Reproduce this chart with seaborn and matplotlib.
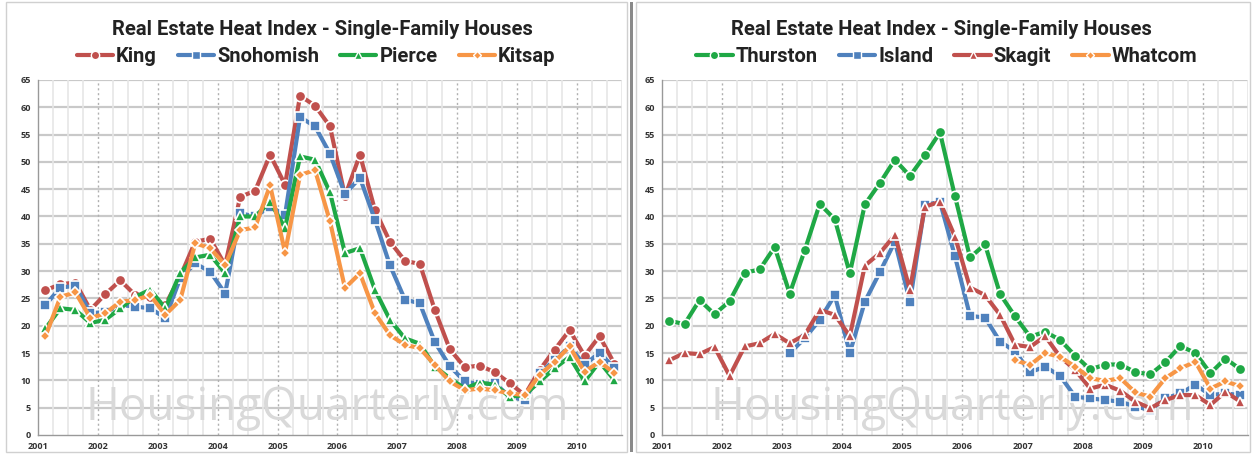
import numpy as np
import pandas as pd
import matplotlib
matplotlib.use("Agg")
import matplotlib.pyplot as plt
import seaborn as sns
from matplotlib.lines import Line2D
from matplotlib.patches import Rectangle

# quarterly data, 2001 Q1 .. 2010 Q3
quarters = [f"{y}Q{q}" for y in range(2001, 2011) for q in range(1, 5)][:39]

king = [26.5, 27.6, 27.9, 22.9, 25.8, 28.3, 25.6, 25.2, 23.8, 29.0, 35.4, 35.9, 31.1,
        43.6, 44.7, 51.3, 45.8, 62.1, 60.3, 56.5, 43.7, 51.3, 41.2, 35.4, 31.9, 31.3,
        22.9, 15.7, 12.4, 12.7, 11.5, 9.5, 7.3, 11.9, 15.6, 19.2, 14.5, 18.1, 13.0]
snohomish = [23.8, 27.0, 27.3, 22.3, 22.5, 23.8, 23.5, 23.2, 21.4, 28.7, 31.4, 29.9, 25.9,
             40.6, 40.0, 41.8, 40.3, 58.2, 56.5, 51.5, 44.1, 47.1, 39.4, 31.1, 24.8, 24.1,
             17.0, 12.6, 9.8, 9.3, 9.5, 7.0, 6.4, 11.3, 13.7, 16.2, 12.8, 15.1, 12.2]
pierce = [19.5, 23.2, 22.9, 20.5, 21.1, 23.2, 25.3, 26.6, 23.2, 29.7, 32.5, 33.0, 29.6,
          40.0, 40.0, 42.7, 37.9, 51.0, 50.4, 44.4, 33.3, 34.2, 26.6, 21.1, 17.7, 16.7,
          12.5, 10.4, 8.5, 9.6, 9.2, 7.0, 7.3, 9.8, 12.2, 14.3, 9.8, 13.4, 10.0]
kitsap = [18.1, 25.3, 26.1, 21.4, 22.3, 24.4, 24.7, 25.6, 22.0, 24.7, 35.1, 34.2, 31.1,
          37.5, 38.0, 45.7, 33.4, 47.6, 48.5, 39.1, 26.9, 29.6, 22.3, 18.3, 16.5, 15.9,
          12.8, 9.8, 8.2, 8.5, 8.2, 7.6, 7.3, 11.0, 13.4, 16.2, 11.6, 13.4, 11.3]

thurston = [20.9, 20.3, 24.7, 22.1, 24.5, 29.7, 30.3, 34.4, 25.9, 33.8, 42.3, 39.5, 29.6,
            42.2, 46.1, 50.4, 47.4, 51.2, 55.4, 43.7, 32.5, 34.9, 25.8, 21.7, 18.0, 18.9,
            17.4, 14.5, 12.0, 12.9, 12.9, 11.5, 11.1, 13.3, 16.3, 15.0, 11.3, 14.0, 12.0]
island = [None] * 8 + [15.0, 17.7, 21.1, 25.6, 15.0, 24.4, 29.8, 35.4, 24.4, 42.1, 42.7,
                       32.7, 21.8, 21.5, 17.1, 15.3, 11.5, 12.5, 10.8, 7.0, 6.7, 6.4, 6.1,
                       5.2, 4.6, 6.7, 7.6, 9.2, 7.3, 7.6, 7.3]
skagit = [13.7, 15.0, 14.8, 16.1, 10.8, 16.2, 16.8, 18.5, 16.8, 18.3, 22.9, 22.0, 18.1,
          31.0, 33.3, 36.6, 26.6, 41.8, 42.7, 36.3, 27.0, 25.6, 22.0, 16.5, 16.1, 18.1,
          14.3, 11.9, 8.5, 9.2, 8.1, 6.1, 4.9, 6.4, 7.3, 7.3, 5.5, 7.9, 6.1]
whatcom = [None] * 23 + [13.7, 12.8, 15.0, 14.3, 12.5, 10.4, 9.9, 10.4, 7.8, 7.0, 10.4,
                         12.2, 13.4, 8.5, 9.8, 8.9]

left_names = ["King", "Snohomish", "Pierce", "Kitsap"]
right_names = ["Thurston", "Island", "Skagit", "Whatcom"]
left_values = [king, snohomish, pierce, kitsap]
right_values = [thurston, island, skagit, whatcom]

RED, BLUE, GREEN, ORANGE = "#C0504D", "#4F81BD", "#1FA845", "#F79646"
left_colors = [RED, BLUE, GREEN, ORANGE]
right_colors = [GREEN, BLUE, RED, ORANGE]
markers = ["o", "s", "^", "D"]
msizes = [7.5, 7.5, 6.5, 5.5]


def to_year(q):
    return int(q[:4]) + (int(q[-1]) - 1) * 0.25 + 0.125


def long_df(names, values):
    rows = []
    for n, vals in zip(names, values):
        for q, v in zip(quarters, vals):
            rows.append({"t": to_year(q), "county": n, "index": v})
    return pd.DataFrame(rows)


sns.set_theme(style="white")
plt.rcParams["font.family"] = ["Open Sans", "DejaVu Sans"]
head_font = ["Roboto", "Open Sans", "DejaVu Sans"]

fig = plt.figure(figsize=(12.54, 4.54), dpi=100)

# panel frames and separator
fig.patches.append(Rectangle((0.005, 0.005), 0.495, 0.99, transform=fig.transFigure,
                             fill=False, edgecolor="#d0d0d0", lw=1))
fig.patches.append(Rectangle((0.502, 0.005), 0.0025, 0.99, transform=fig.transFigure,
                             facecolor="#8a8a8a", edgecolor="none"))
fig.patches.append(Rectangle((0.507, 0.005), 0.49, 0.99, transform=fig.transFigure,
                             fill=False, edgecolor="#d0d0d0", lw=1))

panels = [
    ([0.0303, 0.0419, 0.4657, 0.782], left_names, left_values, left_colors, 0.257, 0.252),
    ([0.5279, 0.0419, 0.4673, 0.782], right_names, right_values, right_colors, 0.751, 0.755),
]

for rect, names, values, colors, tx, lx in panels:
    ax = fig.add_axes(rect)
    df = long_df(names, values)
    sns.lineplot(data=df, x="t", y="index", hue="county", style="county",
                 palette=colors, markers=markers, dashes=False, ax=ax,
                 linewidth=3.0, markeredgecolor="white", markeredgewidth=1.2,
                 legend=False)
    for line, ms in zip(ax.lines, msizes):
        line.set_markersize(ms)

    ax.set_xlim(2001, 2010.75)
    ax.set_ylim(0, 65)
    ax.set_xticks(range(2001, 2011))
    ax.set_xticks(np.arange(2001, 2010.8, 0.25), minor=True)
    ax.set_yticks(range(0, 66, 5))
    ax.set_xlabel("")
    ax.set_ylabel("")
    ax.grid(False)
    for y in range(5, 66, 5):
        ax.axhline(y, color="#c9c9c9", lw=1.6, zorder=0)
    for x in np.arange(2001.25, 2010.8, 0.25):
        if abs(x - round(x)) < 1e-6:
            ax.axvline(x, color="#b0b0b0", lw=1, ls=(0, (1.5, 2)), zorder=0)
        else:
            ax.axvline(x, color="#e6e6e6", lw=1.2, zorder=0)
    ax.tick_params(axis="both", labelsize=6.5, colors="#333333", length=3,
                   width=0.8, pad=2)
    ax.tick_params(axis="x", which="minor", length=2, color="#999999")
    for lbl in ax.get_xticklabels() + ax.get_yticklabels():
        lbl.set_fontweight("bold")
    for s in ["top", "right"]:
        ax.spines[s].set_visible(False)
    for s in ["left", "bottom"]:
        ax.spines[s].set_color("#999999")
        ax.spines[s].set_linewidth(1)

    ax.text(0.495, 0.075, "HousingQuarterly.com", transform=ax.transAxes,
            ha="center", va="center", fontsize=33, color="#d9d9d9", zorder=0)

    handles = [Line2D([], [], color=c, marker=m, markersize=ms * 0.8, lw=3,
                      markeredgecolor="white", markeredgewidth=1)
               for c, m, ms in zip(colors, markers, msizes)]
    fig.text(tx, 0.935, "Real Estate Heat Index - Single-Family Houses", ha="center",
             va="center", fontsize=14.5, fontweight="bold", color="#222222",
             family=head_font)
    leg = fig.legend(handles, names, loc="center", bbox_to_anchor=(lx, 0.875),
                     ncol=4, frameon=False, handlelength=1.8,
                     handletextpad=0.15, columnspacing=1.05, borderaxespad=0,
                     prop={"family": head_font, "weight": "bold", "size": 14.5})
    for t in leg.get_texts():
        t.set_color("#222222")

fig.savefig("out.png", dpi=100)
